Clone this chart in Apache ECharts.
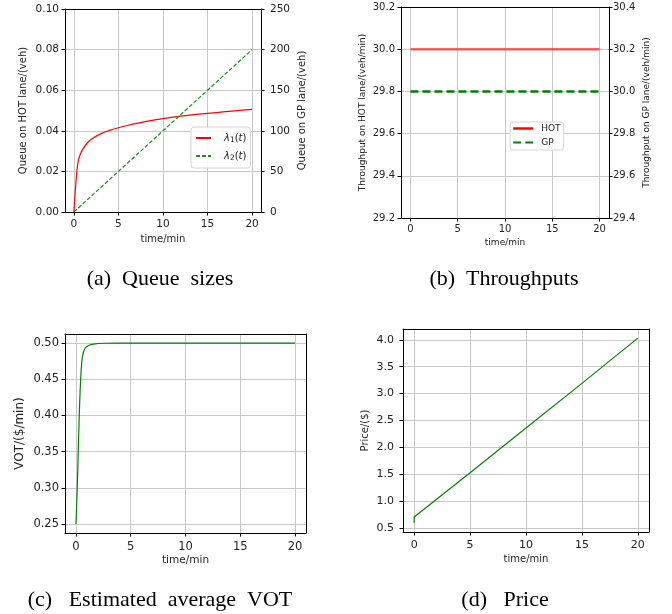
<!DOCTYPE html>
<html>
<head>
<meta charset="utf-8">
<script src="https://cdn.jsdelivr.net/npm/echarts@6/dist/echarts.min.js"></script>
<style>html,body{margin:0;padding:0;background:#fff}#c{width:672px;height:614px}</style>
</head>
<body>
<div id="c"></div>
<script>
// ---- data ----
const xTicks = [0, 5, 10, 15, 20];

// (a) Queue sizes
const timeA = [0, 0.05, 0.1, 0.15, 0.2, 0.25, 0.35, 0.5, 0.6, 0.75, 1, 1.5, 2, 3, 4, 5, 6, 8, 10, 12, 14, 16, 18, 20];
const queueHOT = [0, 0.004, 0.007, 0.010, 0.013, 0.016, 0.021, 0.0255, 0.027, 0.0288, 0.031, 0.034, 0.036, 0.0385, 0.0402, 0.0415, 0.0426, 0.0445, 0.046, 0.0472, 0.0482, 0.049, 0.0498, 0.0506];
const timeA2 = [0, 5, 10, 15, 20];
const queueGP = [0, 50, 100, 150, 200];
const ticksA1 = [0, 0.02, 0.04, 0.06, 0.08, 0.10];
const ticksA2 = [0, 50, 100, 150, 200, 250];

// (b) Throughputs
const timeB = [0, 20];
const thrHOT = [30.0, 30.0];
const thrGP = [30.0, 30.0];
const ticksB1 = [29.2, 29.4, 29.6, 29.8, 30.0, 30.2];
const ticksB2 = [29.4, 29.6, 29.8, 30.0, 30.2, 30.4];

// (c) Estimated average VOT
const timeC = [0, 0.06, 0.12, 0.21, 0.3, 0.37, 0.43, 0.5, 0.6, 0.75, 0.9, 1.2, 1.6, 2.5, 4, 20];
const vot = [0.25, 0.275, 0.30, 0.35, 0.40, 0.43, 0.45, 0.468, 0.482, 0.490, 0.494, 0.497, 0.4985, 0.4997, 0.5, 0.5];
const ticksC = [0.25, 0.30, 0.35, 0.40, 0.45, 0.50];

// (d) Price
const timeD = [0, 0, 5, 10, 15, 20];
const price = [0.6, 0.71, 1.53, 2.36, 3.19, 4.03];
const ticksD = [0.5, 1.0, 1.5, 2.0, 2.5, 3.0, 3.5, 4.0];

// ---- helpers ----
const FF = 'DejaVu Sans';
const TXT = '#222';
const GRIDC = '#c8c8c8';
const pairs = (xs, ys) => xs.map((x, i) => [x, ys[i]]);

function grid(left, top, width, height) {
  return { left, top, width, height, containLabel: false, outerBoundsMode: 'none' };
}
function xAx(gi, fs, margin, nameGap, nameFs) {
  return {
    type: 'value', gridIndex: gi, min: -1, max: 21, position: 'bottom',
    name: 'time/min', nameLocation: 'middle', nameGap,
    nameTextStyle: { fontSize: nameFs, color: TXT, fontFamily: FF },
    axisLine: { show: true, onZero: false, lineStyle: { color: '#000', width: 1 } },
    axisTick: { show: true, inside: false, length: 3.5, customValues: xTicks, lineStyle: { color: '#000', width: 1 } },
    axisLabel: { show: true, customValues: xTicks, fontSize: fs, color: TXT, fontFamily: FF, margin },
    splitLine: { show: true, lineStyle: { color: GRIDC, width: 1 } }
  };
}
function frameX(gi) {
  return {
    type: 'value', gridIndex: gi, min: -1, max: 21, position: 'top',
    axisLine: { show: true, onZero: false, lineStyle: { color: '#000', width: 1 } },
    axisTick: { show: false }, axisLabel: { show: false }, splitLine: { show: false }
  };
}
function frameY(gi) {
  return {
    type: 'value', gridIndex: gi, min: 0, max: 1, position: 'right',
    axisLine: { show: true, onZero: false, lineStyle: { color: '#000', width: 1 } },
    axisTick: { show: false }, axisLabel: { show: false }, splitLine: { show: false }
  };
}
function yAx(gi, pos, min, max, ticks, dec, fs, margin, name, nameGap, nameFs, split) {
  return {
    type: 'value', gridIndex: gi, position: pos, min, max,
    name, nameLocation: 'middle', nameGap, nameRotate: 90,
    nameTextStyle: { fontSize: nameFs, color: TXT, fontFamily: FF },
    axisLine: { show: true, onZero: false, lineStyle: { color: '#000', width: 1 } },
    axisTick: { show: true, inside: false, length: 3.5, customValues: ticks, lineStyle: { color: '#000', width: 1 } },
    axisLabel: { show: true, customValues: ticks, fontSize: fs, color: TXT, fontFamily: FF, margin,
      formatter: v => Number(v).toFixed(dec) },
    splitLine: { show: split, lineStyle: { color: GRIDC, width: 1 } }
  };
}

const chart = echarts.init(document.getElementById('c'), null, { renderer: 'canvas' });

const hiddenSymbol = { color: 'rgba(0,0,0,0)', borderColor: 'rgba(0,0,0,0)', borderWidth: 0, opacity: 0 };

const option = {
  animation: false,
  backgroundColor: '#fff',
  grid: [
    grid(65, 9, 196, 203),
    grid(401, 7, 208, 211),
    grid(65, 334, 241, 199),
    grid(403, 329, 246, 203)
  ],
  xAxis: [
    xAx(0, 10.5, 7, 22, 10),
    xAx(1, 10, 6, 20, 9),
    xAx(2, 11.5, 8, 22, 10.5),
    xAx(3, 11, 8, 22, 10),
    frameX(0), frameX(1), frameX(2), frameX(3)
  ],
  yAxis: [
    yAx(0, 'left', 0, 0.10, ticksA1, 2, 10.5, 6, 'Queue on HOT lane/(veh)', 37, 10, true),
    yAx(0, 'right', 0, 250, ticksA2, 0, 10.5, 9, 'Queue on GP lane/(veh)', 36, 10, false),
    yAx(1, 'left', 29.2, 30.2, ticksB1, 1, 10, 6, 'Throughput on HOT lane/(veh/min)', 34, 9, true),
    yAx(1, 'right', 29.4, 30.4, ticksB2, 1, 10, 4, 'Throughput on GP lane/(veh/min)', 33, 9, false),
    yAx(2, 'left', 0.2375, 0.5125, ticksC, 2, 11.5, 6, 'VOT/($/min)', 39, 12, true),
    yAx(3, 'left', 0.43, 4.2, ticksD, 1, 11, 9, 'Price/($)', 33, 10, true),
    frameY(2), frameY(3)
  ],
  legend: [
    {
      data: ['λ1(t)', 'λ2(t)'], orient: 'vertical', left: 191, top: 127,
      padding: [6, 4, 6, 4], itemGap: 7, itemWidth: 15, itemHeight: 10,
      backgroundColor: 'rgba(255,255,255,0.85)', borderColor: '#d4d4d4', borderWidth: 1, borderRadius: 3,
      selectedMode: false,
      itemStyle: hiddenSymbol,
      formatter: name => name === 'λ1(t)' ? '{it|λ}{sub|1}{n|(}{it|t}{n|)}' : '{it|λ}{sub|2}{n|(}{it|t}{n|)}',
      textStyle: {
        color: TXT, fontFamily: FF, fontSize: 10, padding: [0, 0, 0, 8],
        rich: {
          it: { fontStyle: 'italic', fontSize: 10, fontFamily: FF, color: TXT },
          sub: { fontSize: 7.5, fontFamily: FF, color: TXT, verticalAlign: 'bottom', padding: [4, 0, 0, 0] },
          n: { fontSize: 10, fontFamily: FF, color: TXT }
        }
      }
    },
    {
      data: [
        { name: 'HOT', lineStyle: { opacity: 1, color: '#ff0000', width: 2.5 } },
        { name: 'GP' }
      ],
      orient: 'vertical', left: 510, top: 122,
      padding: [2, 3, 3, 2], itemGap: 5, itemWidth: 20, itemHeight: 9,
      backgroundColor: 'rgba(255,255,255,0.85)', borderColor: '#d4d4d4', borderWidth: 1, borderRadius: 3,
      selectedMode: false,
      itemStyle: hiddenSymbol,
      textStyle: { color: TXT, fontFamily: FF, fontSize: 9, padding: [0, 0, 0, 3] }
    }
  ],
  series: [
    { type: 'line', name: 'λ1(t)', xAxisIndex: 0, yAxisIndex: 0, data: pairs(timeA, queueHOT),
      symbol: 'none', showSymbol: false, smooth: 0.25, silent: true,
      lineStyle: { color: '#ff0000', width: 1.2 }, itemStyle: { color: '#ff0000' } },
    { type: 'line', name: 'λ2(t)', xAxisIndex: 0, yAxisIndex: 1, data: pairs(timeA2, queueGP),
      symbol: 'none', showSymbol: false, silent: true,
      lineStyle: { color: '#1a8f1a', width: 1.2, type: [4, 2] }, itemStyle: { color: '#1a8f1a' } },
    { type: 'line', name: 'HOT', xAxisIndex: 1, yAxisIndex: 2, data: pairs(timeB, thrHOT),
      symbol: 'none', showSymbol: false, silent: true,
      lineStyle: { color: '#ff0000', width: 2.5, opacity: 0.6 }, itemStyle: { color: '#ff0000' } },
    { type: 'line', name: 'GP', xAxisIndex: 1, yAxisIndex: 3, data: pairs(timeB, thrGP),
      symbol: 'none', showSymbol: false, silent: true,
      lineStyle: { color: '#008000', width: 2.5, type: [8, 4] }, itemStyle: { color: '#008000' } },
    { type: 'line', name: 'VOT', xAxisIndex: 2, yAxisIndex: 4, data: pairs(timeC, vot),
      symbol: 'none', showSymbol: false, smooth: 0.2, silent: true,
      lineStyle: { color: '#008000', width: 1.2 }, itemStyle: { color: '#008000' } },
    { type: 'line', name: 'Price', xAxisIndex: 3, yAxisIndex: 5, data: pairs(timeD, price),
      symbol: 'none', showSymbol: false, silent: true,
      lineStyle: { color: '#008000', width: 1.2 }, itemStyle: { color: '#008000' } }
  ],
  graphic: [
    { type: 'text', x: 160, y: 279, style: { text: '(a)  Queue  sizes', fill: '#000', font: '22px "Liberation Serif"', align: 'center', verticalAlign: 'middle', textAlign: 'center', textVerticalAlign: 'middle' } },
    { type: 'text', x: 504, y: 279, style: { text: '(b)  Throughputs', fill: '#000', font: '22px "Liberation Serif"', align: 'center', verticalAlign: 'middle', textAlign: 'center', textVerticalAlign: 'middle' } },
    { type: 'text', x: 160, y: 600, style: { text: '(c)   Estimated  average  VOT', fill: '#000', font: '22px "Liberation Serif"', align: 'center', verticalAlign: 'middle', textAlign: 'center', textVerticalAlign: 'middle' } },
    { type: 'text', x: 505, y: 600, style: { text: '(d)   Price', fill: '#000', font: '22px "Liberation Serif"', align: 'center', verticalAlign: 'middle', textAlign: 'center', textVerticalAlign: 'middle' } }
  ]
};
chart.setOption(option);
</script>
</body>
</html>
